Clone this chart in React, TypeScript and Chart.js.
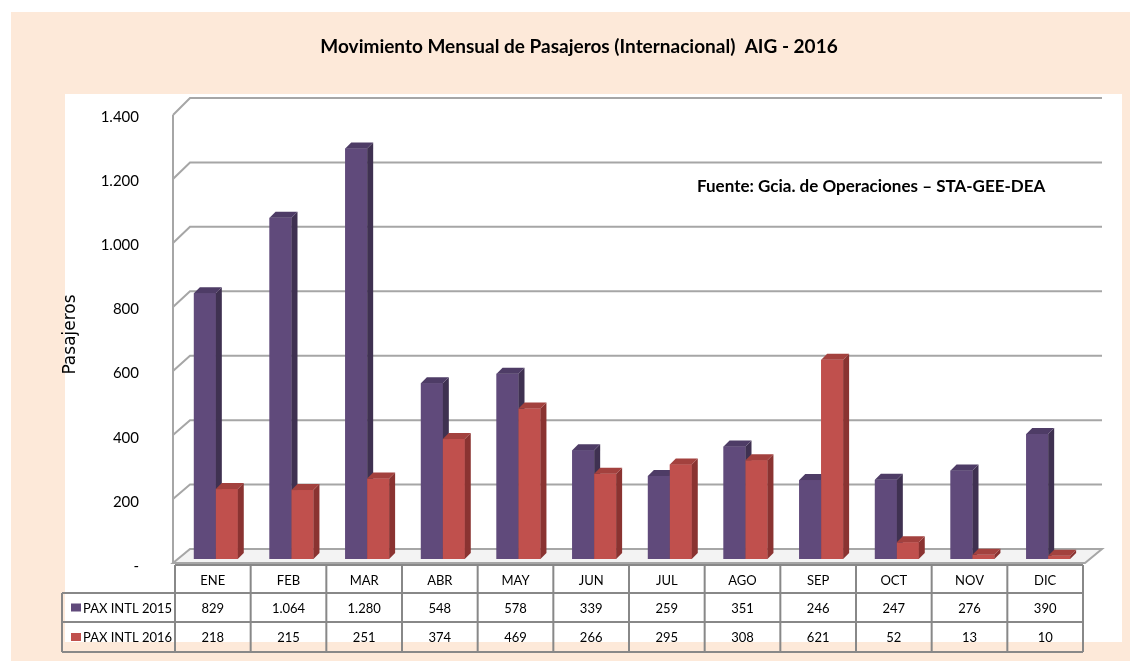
import React, { useEffect, useRef } from 'react';
import { Chart, registerables } from 'chart.js';

Chart.register(...registerables);

const months = ['ENE', 'FEB', 'MAR', 'ABR', 'MAY', 'JUN', 'JUL', 'AGO', 'SEP', 'OCT', 'NOV', 'DIC'];
const pax2015 = [829, 1064, 1280, 548, 578, 339, 259, 351, 246, 247, 276, 390];
const pax2016 = [218, 215, 251, 374, 469, 266, 295, 308, 621, 52, 13, 10];
const seriesLabels = ['PAX INTL 2015', 'PAX INTL 2016'];
const yMax = 1400;
const yStep = 200;
const titleText = 'Movimiento Mensual de Pasajeros (Internacional)  AIG - 2016';
const sourceText = 'Fuente: Gcia. de Operaciones \u2013 STA-GEE-DEA';
const yAxisTitle = 'Pasajeros';

const FONT = 'Lato, "Open Sans", sans-serif';
const FRONT = ['#604A7B', '#C0504D'];
const SIDE = ['#3F3151', '#8A3331'];
const TOP = ['#4E3C66', '#A3413E'];
const DEPTH = 6;
const SHIFT = 3;

const fmt = (v: number) =>
  v === 0 ? '-' : String(v).replace(/\B(?=(\d{3})+(?!\d))/g, '.');

const excel3d = {
  id: 'excel3d',
  beforeDraw(chart: any) {
    const ctx = chart.ctx;
    ctx.save();
    ctx.fillStyle = '#ffffff';
    ctx.fillRect(0, 0, chart.width, chart.height);
    ctx.fillStyle = '#FDE9D9';
    ctx.fillRect(11, 12, 1119, 649);
    ctx.fillStyle = '#ffffff';
    ctx.fillRect(65, 94, 1057, 548);

    // title
    ctx.fillStyle = '#000';
    ctx.font = `bold 19px ${FONT}`;
    ctx.textAlign = 'center';
    ctx.textBaseline = 'middle';
    ctx.fillText(titleText, 579, 47);

    const ys = chart.scales.y;
    const xs = chart.scales.x;
    const ca = chart.chartArea;
    const t = (v: number) => (ca.bottom - ys.getPixelForValue(v)) / (ca.bottom - ca.top);
    const frontY = (v: number) => 563 - t(v) * 448;
    const backY = (v: number) => 549 - t(v) * 451;
    const colW = (xs.getPixelForValue(months.length - 1) - xs.getPixelForValue(0)) / (months.length - 1);
    const tableRight = xs.getPixelForValue(months.length - 1) + colW / 2 - SHIFT;
    const fx = 173;
    const bx = 190;
    const bxR = tableRight + 19;

    // floor
    ctx.beginPath();
    ctx.moveTo(fx, frontY(0));
    ctx.lineTo(tableRight + 2, frontY(0));
    ctx.lineTo(bxR, backY(0));
    ctx.lineTo(bx, backY(0));
    ctx.closePath();
    ctx.fillStyle = '#f3f3f3';
    ctx.fill();
    ctx.strokeStyle = '#a6a6a6';
    ctx.lineWidth = 2;
    ctx.stroke();

    // gridlines
    ctx.strokeStyle = '#a6a6a6';
    ctx.lineWidth = 2;
    ys.ticks.forEach((tk: any) => {
      const v = tk.value;
      if (v === 0) return;
      ctx.beginPath();
      ctx.moveTo(fx, frontY(v));
      ctx.lineTo(bx, backY(v));
      ctx.lineTo(bxR, backY(v));
      ctx.stroke();
    });
    ctx.beginPath();
    ctx.moveTo(fx, frontY(yMax));
    ctx.lineTo(fx, frontY(0));
    ctx.stroke();

    // source note
    ctx.fillStyle = '#000';
    ctx.font = `bold 17px ${FONT}`;
    ctx.textAlign = 'left';
    ctx.fillText(sourceText, 697, 187);
    ctx.restore();
  },
  afterDatasetsDraw(chart: any) {
    const ctx = chart.ctx;
    ctx.save();
    const n = chart.data.labels.length;
    for (let i = 0; i < n; i++) {
      chart.data.datasets.forEach((_: any, di: number) => {
        const el = chart.getDatasetMeta(di).data[i];
        if (!el) return;
        const { x, y, base, width } = el.getProps(['x', 'y', 'base', 'width'], true);
        const xl = x - width / 2;
        const xr = x + width / 2;
        const d = DEPTH;
        ctx.fillStyle = FRONT[di];
        ctx.fillRect(xl, y, width, base - y);
        ctx.fillStyle = SIDE[di];
        ctx.beginPath();
        ctx.moveTo(xr, y);
        ctx.lineTo(xr + d, y - d);
        ctx.lineTo(xr + d, base - d);
        ctx.lineTo(xr, base);
        ctx.closePath();
        ctx.fill();
        ctx.fillStyle = TOP[di];
        ctx.beginPath();
        ctx.moveTo(xl, y);
        ctx.lineTo(xl + d, y - d);
        ctx.lineTo(xr + d, y - d);
        ctx.lineTo(xr, y);
        ctx.closePath();
        ctx.fill();
      });
    }
    ctx.restore();
  },
  afterDraw(chart: any) {
    const ctx = chart.ctx;
    const xs = chart.scales.x;
    const n = months.length;
    const colW = (xs.getPixelForValue(n - 1) - xs.getPixelForValue(0)) / (n - 1);
    const left = xs.getPixelForValue(0) - colW / 2 - SHIFT;
    const right = xs.getPixelForValue(n - 1) + colW / 2 - SHIFT;
    const labelLeft = 62;
    const rows = [565, 593, 622, 652];
    ctx.save();
    ctx.strokeStyle = '#888888';
    ctx.lineWidth = 2;
    ctx.beginPath();
    ctx.moveTo(left, rows[0]);
    ctx.lineTo(right, rows[0]);
    for (let r = 1; r < rows.length; r++) {
      ctx.moveTo(labelLeft, rows[r]);
      ctx.lineTo(right, rows[r]);
    }
    ctx.moveTo(labelLeft, rows[1]);
    ctx.lineTo(labelLeft, rows[3]);
    for (let i = 0; i <= n; i++) {
      const bxp = left + i * colW;
      ctx.moveTo(bxp, rows[0]);
      ctx.lineTo(bxp, rows[3]);
    }
    ctx.stroke();

    ctx.fillStyle = '#000';
    ctx.font = `13px ${FONT}`;
    ctx.textAlign = 'center';
    ctx.textBaseline = 'middle';
    const series = [pax2015, pax2016];
    months.forEach((m, i) => {
      const cx = xs.getPixelForValue(i) - SHIFT;
      ctx.fillText(m, cx, (rows[0] + rows[1]) / 2 + 2);
      series.forEach((s, si) => {
        ctx.fillText(fmt(s[i]), cx, (rows[si + 1] + rows[si + 2]) / 2 + 1);
      });
    });
    ctx.textAlign = 'left';
    seriesLabels.forEach((lab, si) => {
      const cy = (rows[si + 1] + rows[si + 2]) / 2;
      ctx.fillStyle = FRONT[si];
      ctx.fillRect(71, cy - 4, 10, 8);
      ctx.fillStyle = '#000';
      ctx.fillText(lab, 83, cy + 1);
    });
    ctx.restore();
  },
};

export default function App() {
  const ref = useRef<HTMLCanvasElement>(null);
  useEffect(() => {
    const chart = new Chart(ref.current as HTMLCanvasElement, {
      type: 'bar',
      data: {
        labels: months,
        datasets: [
          {
            label: seriesLabels[0],
            data: pax2015,
            backgroundColor: FRONT[0],
            categoryPercentage: 0.58,
            barPercentage: 1,
          },
          {
            label: seriesLabels[1],
            data: pax2016,
            backgroundColor: FRONT[1],
            categoryPercentage: 0.58,
            barPercentage: 1,
          },
        ],
      },
      options: {
        animation: false,
        responsive: false,
        devicePixelRatio: 1,
        layout: { padding: { left: 60, top: 110, right: 44, bottom: 102 } },
        plugins: {
          legend: { display: false },
          tooltip: { enabled: false },
          title: { display: false },
        },
        scales: {
          x: { display: false },
          y: {
            min: 0,
            max: yMax,
            ticks: {
              stepSize: yStep,
              padding: 39,
              labelOffset: 7,
              color: '#000',
              font: { family: FONT, size: 15 },
              callback: (v: any) => fmt(Number(v)),
            },
            grid: { display: false, drawTicks: false },
            border: { display: false },
            title: {
              display: true,
              text: yAxisTitle,
              color: '#000',
              padding: 0,
              font: { family: '"DejaVu Sans", sans-serif', size: 17 },
            },
            afterFit: (s: any) => {
              s.width = 118;
            },
          },
        },
      },
      plugins: [excel3d],
    } as any);
    return () => chart.destroy();
  }, []);
  return (
    <div style={{ position: 'fixed', left: 0, top: 0, width: 1130, height: 661 }}>
      <canvas ref={ref} width={1130} height={661} style={{ display: 'block' }} />
    </div>
  );
}
